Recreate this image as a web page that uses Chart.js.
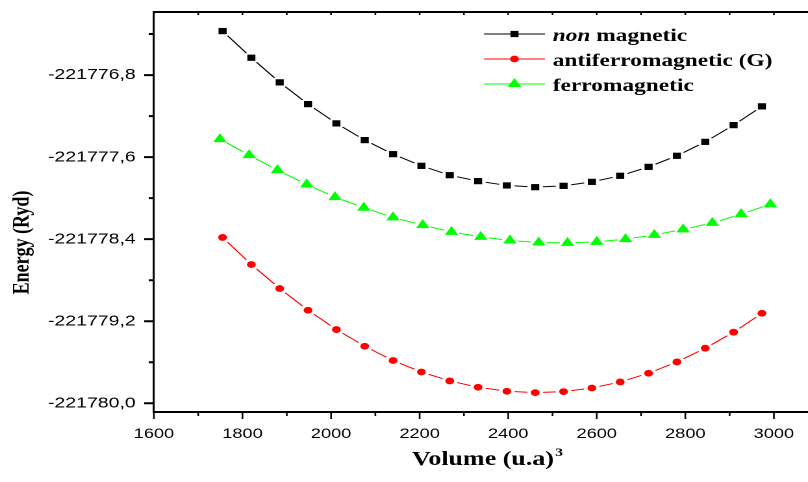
<!DOCTYPE html>
<html>
<head>
<meta charset="utf-8">
<title>Energy vs Volume</title>
<script src="https://cdn.jsdelivr.net/npm/chart.js@4.4.1/dist/chart.umd.min.js"></script>
<style>
  html, body { margin: 0; padding: 0; background: #fff; overflow: hidden; }
  /* the source figure is stretched sideways: draw it narrow, then widen it */
  #wrap {
    position: absolute; left: 0; top: 0;
    width: 622px; height: 482px;
    transform: scaleX(1.299); transform-origin: 0 0;
  }
</style>
</head>
<body>
<div id="wrap"><canvas id="chart"></canvas></div>
<script>
// ── Data ─────────────────────────────────────────────────────────────────────

const VOLUME = [1755, 1820, 1884, 1948, 2012, 2076, 2140, 2204, 2268, 2332,
                2397, 2461, 2525, 2589, 2653, 2717, 2781, 2845, 2909, 2973];
const VOLUME_FERRO = [1749, 1815, 1879, 1945, 2009, 2074, 2140, 2207, 2272, 2338,
                      2404, 2469, 2534, 2600, 2665, 2730, 2795, 2861, 2926, 2992];

const E_NON_MAGNETIC = [-221776.371, -221776.631, -221776.871, -221777.083, -221777.271,
                        -221777.434, -221777.571, -221777.685, -221777.776, -221777.834,
                        -221777.876, -221777.893, -221777.880, -221777.841, -221777.782,
                        -221777.695, -221777.587, -221777.451, -221777.288, -221777.105];
const E_ANTIFERRO = [-221778.383, -221778.647, -221778.881, -221779.093, -221779.281,
                     -221779.444, -221779.583, -221779.695, -221779.782, -221779.844,
                     -221779.883, -221779.896, -221779.886, -221779.851, -221779.792,
                     -221779.707, -221779.597, -221779.463, -221779.307, -221779.122];
const E_FERRO = [-221777.424, -221777.580, -221777.727, -221777.866, -221777.990,
                 -221778.093, -221778.188, -221778.263, -221778.329, -221778.378,
                 -221778.413, -221778.432, -221778.436, -221778.426, -221778.400,
                 -221778.358, -221778.305, -221778.241, -221778.156, -221778.059];

const SERIES_LABELS = ['non magnetic', 'antiferromagnetic (G)', 'ferromagnetic'];

const X_TICKS = [1600, 1700, 1800, 1900, 2000, 2100, 2200, 2300,
                 2400, 2500, 2600, 2700, 2800, 2900, 3000];
const X_TICK_LABELS = [1600, 1800, 2000, 2200, 2400, 2600, 2800, 3000];
const Y_TICKS = [-221780.0, -221779.6, -221779.2, -221778.8, -221778.4,
                 -221778.0, -221777.6, -221777.2, -221776.8, -221776.4];
const Y_TICK_LABELS = [-221780.0, -221779.2, -221778.4, -221777.6, -221776.8];

const X_TITLE = 'Volume (u.a)';
const X_TITLE_SUP = '3';
const Y_TITLE = 'Energy (Ryd)';

// ── Style ────────────────────────────────────────────────────────────────────

const SERIF = '"Liberation Serif", "Times New Roman", serif';
const SANS  = '"Liberation Sans", Arial, sans-serif';
const GAP   = 6;   // white gap left in the line around each symbol

const toPoints = (xs, ys) => xs.map((x, i) => ({ x, y: ys[i] }));
const fmtComma = (v) => v.toFixed(1).replace('.', ',');

// ── Plugins ──────────────────────────────────────────────────────────────────

// Origin style: the connecting line stops short of every symbol
const symbolGaps = {
  id: 'symbolGaps',
  afterDatasetDraw(chart, args) {
    const ctx = chart.ctx;
    const pts = args.meta.data;
    ctx.save();
    ctx.fillStyle = '#fff';
    for (const p of pts) {
      ctx.beginPath();
      ctx.arc(p.x, p.y, GAP, 0, Math.PI * 2);
      ctx.fill();
    }
    for (const p of pts) p.draw(ctx, chart.chartArea);
    ctx.restore();
  }
};

// top border, major/minor tick marks and the two axis titles
const frame = {
  id: 'frame',
  afterDraw(chart) {
    const { ctx, chartArea: a, scales: { x, y } } = chart;
    ctx.save();
    ctx.strokeStyle = '#000';

    ctx.lineWidth = 2;
    ctx.beginPath();
    ctx.moveTo(a.left, a.top);
    ctx.lineTo(a.right, a.top);
    ctx.stroke();

    ctx.lineWidth = 1.3;
    ctx.beginPath();
    for (const v of X_TICKS) {
      const px = x.getPixelForValue(v);
      const len = X_TICK_LABELS.includes(v) ? 7 : 4;
      ctx.moveTo(px, a.bottom);
      ctx.lineTo(px, a.bottom + len);
      ctx.moveTo(px, a.top);
      ctx.lineTo(px, a.top + 3);
    }
    ctx.stroke();

    ctx.lineWidth = 2;
    ctx.beginPath();
    for (const v of Y_TICKS) {
      const py = y.getPixelForValue(v);
      const len = Y_TICK_LABELS.includes(v) ? 7.5 : 4;
      ctx.moveTo(a.left, py);
      ctx.lineTo(a.left - len, py);
    }
    ctx.stroke();

    ctx.fillStyle = '#000';

    // y title, rotated
    ctx.save();
    ctx.translate(17.5, 242.5);
    ctx.rotate(-Math.PI / 2);
    ctx.font = `bold 18px ${SERIF}`;
    ctx.textAlign = 'center';
    ctx.textBaseline = 'middle';
    ctx.fillText(Y_TITLE, 0, 0);
    ctx.restore();

    // x title with superscript
    ctx.font = `bold 20px ${SERIF}`;
    ctx.textAlign = 'left';
    ctx.textBaseline = 'alphabetic';
    const w = ctx.measureText(X_TITLE).width;
    const cx = (a.left + a.right) / 2 + 1.5;
    ctx.fillText(X_TITLE, cx - w / 2, 465);
    ctx.font = `bold 12px ${SERIF}`;
    ctx.fillText(X_TITLE_SUP, cx + w / 2 + 1, 456);

    ctx.restore();
  }
};

// legend inside the plot, first word of "non magnetic" in italics
const LEGEND = { x0: 372.6, x1: 419.5, textX: 425.5, top: 34, step: 25 };

const originLegend = {
  id: 'originLegend',
  afterDraw(chart) {
    const ctx = chart.ctx;
    chart.data.datasets.forEach((ds, i) => {
      const y = LEGEND.top + i * LEGEND.step;
      ctx.save();
      ctx.strokeStyle = ds.borderColor;
      ctx.lineWidth = 1;
      ctx.beginPath();
      ctx.moveTo(LEGEND.x0, y);
      ctx.lineTo(LEGEND.x1, y);
      ctx.stroke();

      ctx.fillStyle = ds.pointBackgroundColor;
      Chart.helpers.drawPoint(ctx, {
        pointStyle: ds.pointStyle, radius: ds.pointRadius, rotation: 0, borderWidth: 0
      }, (LEGEND.x0 + LEGEND.x1) / 2, y);

      ctx.fillStyle = '#000';
      ctx.textAlign = 'left';
      ctx.textBaseline = 'alphabetic';
      let tx = LEGEND.textX;
      let rest = ds.label;
      const m = ds.label.match(/^(non)( .*)$/);
      if (m) {
        ctx.font = `italic bold 18px ${SERIF}`;
        ctx.fillText(m[1], tx, y + 7);
        tx += ctx.measureText(m[1]).width;
        rest = m[2];
      }
      ctx.font = `bold 18px ${SERIF}`;
      ctx.fillText(rest, tx, y + 7);
      ctx.restore();
    });
  }
};

// ── Chart ────────────────────────────────────────────────────────────────────

const series = [
  { label: SERIES_LABELS[0], data: toPoints(VOLUME, E_NON_MAGNETIC),
    color: '#000000', style: 'rect', radius: 4.4 },
  { label: SERIES_LABELS[1], data: toPoints(VOLUME, E_ANTIFERRO),
    color: '#ff0000', style: 'circle', radius: 3.4 },
  { label: SERIES_LABELS[2], data: toPoints(VOLUME_FERRO, E_FERRO),
    color: '#00ff00', style: 'triangle', radius: 6 }
];

new Chart(document.getElementById('chart'), {
  type: 'line',
  data: {
    datasets: series.map(s => ({
      label:                s.label,
      data:                 s.data,
      borderColor:          s.color,
      borderWidth:          1,
      pointStyle:           s.style,
      pointRadius:          s.radius,
      pointBackgroundColor: s.color,
      pointBorderWidth:     0,
      tension:              0,
      fill:                 false
    }))
  },
  options: {
    responsive:          true,
    maintainAspectRatio: false,
    devicePixelRatio:    2,
    animation:           false,
    events:              [],
    // plot runs off the right edge of the figure, so no room kept for symbols
    layout: { autoPadding: false, padding: { top: 12, right: 0, bottom: 0, left: 0 } },
    scales: {
      x: {
        type: 'linear',
        min:  1600,
        max:  3077,
        afterBuildTicks: (axis) => { axis.ticks = X_TICKS.map(v => ({ value: v })); },
        afterFit: (axis) => {
          axis.height = 70;
          axis.paddingLeft = 0;
          axis.paddingRight = 0;
        },
        ticks: {
          autoSkip:    false,
          maxRotation: 0,
          minRotation: 0,
          padding:     10,
          color:       '#000',
          font:        { family: SANS, size: 14, lineHeight: 1.714 },
          callback:    (v) => X_TICK_LABELS.includes(v) ? String(v) : ''
        },
        grid:   { display: false, drawTicks: false },
        border: { display: true, color: '#000', width: 2 }
      },
      y: {
        min: -221780.085,
        max: -221776.185,
        afterBuildTicks: (axis) => { axis.ticks = Y_TICKS.map(v => ({ value: v })); },
        afterFit: (axis) => {
          axis.width = 118.5;
          axis.paddingTop = 0;
          axis.paddingBottom = 0;
        },
        ticks: {
          autoSkip: false,
          padding:  14,
          color:    '#000',
          font:     { family: SANS, size: 15 },
          callback: (v) => Y_TICK_LABELS.includes(v) ? fmtComma(v) : ''
        },
        grid:   { display: false, drawTicks: false },
        border: { display: true, color: '#000', width: 1.6 }
      }
    },
    plugins: {
      legend:  { display: false },
      tooltip: { enabled: false }
    }
  },
  plugins: [symbolGaps, frame, originLegend]
});
</script>
</body>
</html>
